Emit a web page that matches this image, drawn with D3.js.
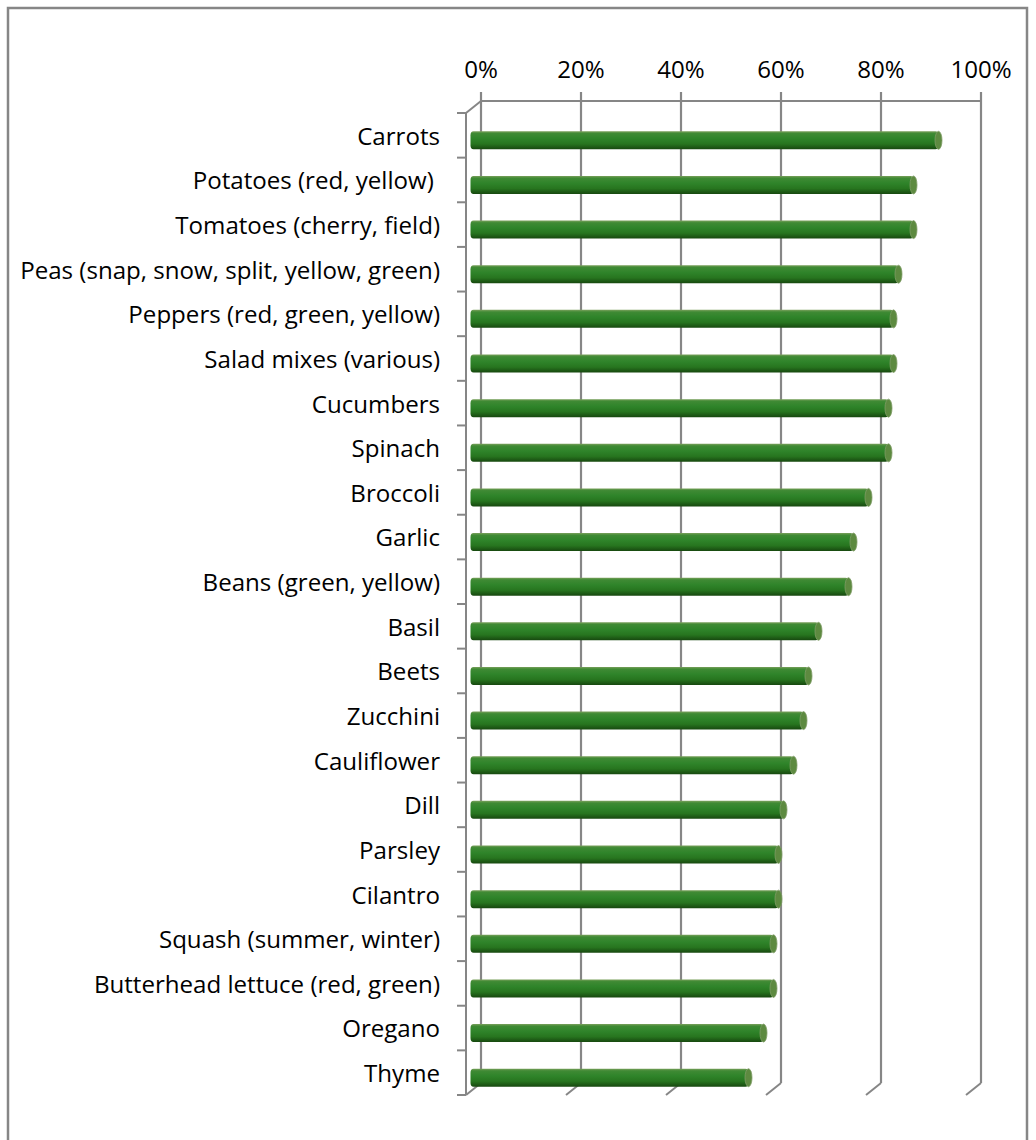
<!DOCTYPE html>
<html>
<head>
<meta charset="utf-8">
<script src="https://cdn.jsdelivr.net/npm/d3@7"></script>
<style>
  body { margin: 0; background: #fff; }
  text { font-family: "Open Sans", sans-serif; fill: #000; white-space: pre; }
</style>
</head>
<body>
<svg id="chart" width="1036" height="1140"></svg>
<script>
// categories, top to bottom
var categories = ["Carrots", "Potatoes (red, yellow) ", "Tomatoes (cherry, field)",
  "Peas (snap, snow, split, yellow, green)", "Peppers (red, green, yellow)",
  "Salad mixes (various)", "Cucumbers", "Spinach", "Broccoli", "Garlic",
  "Beans (green, yellow)", "Basil", "Beets", "Zucchini", "Cauliflower", "Dill",
  "Parsley", "Cilantro", "Squash (summer, winter)", "Butterhead lettuce (red, green)",
  "Oregano", "Thyme"];
// share of respondents
var values = [0.93, 0.88, 0.88, 0.85, 0.84, 0.84, 0.83, 0.83, 0.79, 0.76, 0.75,
  0.69, 0.67, 0.66, 0.64, 0.62, 0.61, 0.61, 0.60, 0.60, 0.58, 0.55];
var ticks = [0, 0.2, 0.4, 0.6, 0.8, 1.0];
var tickLabels = ["0%", "20%", "40%", "60%", "80%", "100%"];

var svg = d3.select("#chart");
var grid = "#868686";

// 3d offsets: back wall vs front plane
var dx = -15, dy = 12;
var backTop = 101, backBottom = 1083;

var x = d3.scaleLinear().domain([0, 1]).range([481, 981]);      // back wall
var xMid = d3.scaleLinear().domain([0, 1]).range([481 + dx / 2, 981 + dx / 2]);
var y = d3.scaleBand().domain(categories).range([backTop + dy, backBottom + dy]);

// outer frame
svg.append("path")
  .attr("d", "M8,1145 L8,8 L1027,8 L1027,1145")
  .attr("fill", "none").attr("stroke", grid).attr("stroke-width", 2.5);

// gradient for the cylinders
var defs = svg.append("defs");
var grad = defs.append("linearGradient").attr("id", "barGrad")
  .attr("x1", 0).attr("y1", 0).attr("x2", 0).attr("y2", 1);
[["0%", "#7aa05c"], ["12%", "#3f8a34"], ["40%", "#2f842a"], ["70%", "#27751f"], ["100%", "#17480f"]]
  .forEach(function(s) { grad.append("stop").attr("offset", s[0]).attr("stop-color", s[1]); });

// back wall gridlines
svg.selectAll(".vgrid").data(ticks).enter().append("line")
  .attr("class", "vgrid")
  .attr("x1", function(d) { return x(d); }).attr("x2", function(d) { return x(d); })
  .attr("y1", backTop - 9).attr("y2", backBottom)
  .attr("stroke", grid).attr("stroke-width", 2.2);

// floor diagonals at the bottom
svg.selectAll(".diag").data(ticks).enter().append("line")
  .attr("class", "diag")
  .attr("x1", function(d) { return x(d); }).attr("y1", backBottom)
  .attr("x2", function(d) { return x(d) + dx; }).attr("y2", backBottom + dy)
  .attr("stroke", grid).attr("stroke-width", 2);

// top edge of the back wall
svg.append("line")
  .attr("x1", x(0)).attr("x2", x(1)).attr("y1", backTop).attr("y2", backTop)
  .attr("stroke", grid).attr("stroke-width", 2);
svg.append("line")
  .attr("x1", x(0)).attr("y1", backTop).attr("x2", x(0) + dx).attr("y2", backTop + dy)
  .attr("stroke", grid).attr("stroke-width", 2);

// front category axis
svg.append("line")
  .attr("x1", x(0) + dx).attr("x2", x(0) + dx)
  .attr("y1", backTop + dy).attr("y2", backBottom + dy)
  .attr("stroke", grid).attr("stroke-width", 2);
var catTicks = categories.map(function(c) { return y(c); }).concat([backBottom + dy]);
svg.selectAll(".ctick").data(catTicks).enter().append("line")
  .attr("class", "ctick")
  .attr("x1", x(0) + dx - 9).attr("x2", x(0) + dx)
  .attr("y1", function(d) { return d; }).attr("y2", function(d) { return d; })
  .attr("stroke", grid).attr("stroke-width", 2);

// pick a font size so the longest label spans about as wide as in the original (Calibri)
var probe = svg.append("text").style("font-size", "20px")
  .text("Peas (snap, snow, split, yellow, green)");
var fs = 20 * 420 / probe.node().getComputedTextLength();
probe.remove();

// value labels on top
svg.selectAll(".xlab").data(ticks).enter().append("text")
  .attr("class", "xlab")
  .attr("x", function(d) { return x(d); })
  .attr("y", 78)
  .attr("text-anchor", "middle")
  .style("font-size", fs + "px")
  .text(function(d, i) { return tickLabels[i]; });

// category labels
svg.selectAll(".ylab").data(categories).enter().append("text")
  .attr("class", "ylab")
  .attr("x", 440)
  .attr("y", function(d) { return y(d) + y.bandwidth() / 2 + 1; })
  .attr("dy", "0.35em")
  .attr("text-anchor", "end")
  .style("font-size", fs + "px")
  .text(function(d) { return d; });

// cylinders
var barH = 18;
var bars = svg.selectAll(".bar").data(categories).enter().append("g")
  .attr("class", "bar")
  .attr("transform", function(d) {
    return "translate(0," + (y(d) + y.bandwidth() / 2 + dy / 2 - 1 - barH / 2) + ")";
  });

bars.append("rect")
  .attr("x", xMid(0) - 3)
  .attr("width", function(d, i) { return xMid(values[i]) - xMid(0) + 3; })
  .attr("height", barH)
  .attr("rx", 3).attr("ry", 4)
  .attr("fill", "url(#barGrad)");

bars.append("ellipse")
  .attr("cx", function(d, i) { return xMid(values[i]); })
  .attr("cy", barH / 2)
  .attr("rx", 3.5).attr("ry", barH / 2)
  .attr("fill", "#5d8a40")
  .attr("stroke", "#7f9c66").attr("stroke-width", 0.8);
</script>
</body>
</html>
